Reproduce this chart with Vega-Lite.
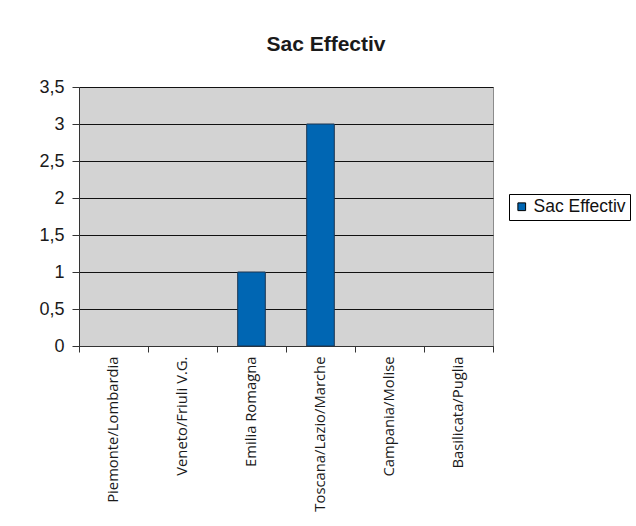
{
  "$schema": "https://vega.github.io/schema/vega-lite/v6.json",
  "autosize": {"type": "none"},
  "padding": {"left": 79, "top": 87, "right": 143, "bottom": 180},
  "width": 414,
  "height": 259,
  "background": "white",
  "title": {
    "text": "Sac Effectiv",
    "font": "Liberation Sans",
    "fontSize": 21,
    "fontWeight": "bold",
    "color": "#1a1a1a",
    "anchor": "middle",
    "dx": 40,
    "offset": 6,
    "baseline": "alphabetic"
  },
  "data": {
    "values": [
      {"regione": "Piemonte/Lombardia", "valore": 0, "serie": "Sac Effectiv"},
      {"regione": "Veneto/Friuli V.G.", "valore": 0, "serie": "Sac Effectiv"},
      {"regione": "Emilia Romagna", "valore": 1, "serie": "Sac Effectiv"},
      {"regione": "Toscana/Lazio/Marche", "valore": 3, "serie": "Sac Effectiv"},
      {"regione": "Campania/Molise", "valore": 0, "serie": "Sac Effectiv"},
      {"regione": "Basilicata/Puglia", "valore": 0, "serie": "Sac Effectiv"}
    ]
  },
  "mark": {
    "type": "bar",
    "width": {"band": 0.4},
    "stroke": "#1c3550",
    "strokeWidth": 1
  },
  "encoding": {
    "x": {
      "field": "regione",
      "type": "nominal",
      "sort": null,
      "title": null,
      "scale": {"paddingInner": 0, "paddingOuter": 0},
      "axis": {
        "tickBand": "extent",
        "labelAngle": -90,
        "labelFont": "Open Sans",
        "labelFontSize": 14.8,
        "labelColor": "#1a1a1a",
        "labelPadding": 4,
        "tickSize": 6,
        "tickColor": "#333333",
        "domainColor": "#333333",
        "grid": false
      }
    },
    "y": {
      "field": "valore",
      "type": "quantitative",
      "title": null,
      "scale": {"domain": [0, 3.5], "nice": false},
      "axis": {
        "values": [0, 0.5, 1, 1.5, 2, 2.5, 3, 3.5],
        "labelExpr": "replace(format(datum.value, '~g'), '.', ',')",
        "labelFont": "Liberation Sans",
        "labelFontSize": 18,
        "labelColor": "#1a1a1a",
        "labelPadding": 8,
        "tickSize": 7,
        "tickColor": "#333333",
        "domainColor": "#333333",
        "grid": true,
        "gridColor": "#111111",
        "gridWidth": 1
      }
    },
    "strokeOpacity": {
      "condition": {"test": "datum.valore > 0", "value": 1},
      "value": 0
    },
    "color": {
      "field": "serie",
      "type": "nominal",
      "scale": {"domain": ["Sac Effectiv"], "range": ["#0066b3"]},
      "legend": {
        "title": null,
        "orient": "none",
        "legendX": 430,
        "legendY": 107,
        "strokeColor": "#000000",
        "fillColor": "white",
        "padding": 4,
        "symbolType": "square",
        "symbolSize": 60,
        "symbolStrokeColor": "#000000",
        "symbolStrokeWidth": 1,
        "symbolOpacity": 1,
        "labelFont": "Liberation Sans",
        "labelFontSize": 17.5,
        "labelColor": "#111111",
        "labelOffset": 3
      }
    }
  },
  "config": {
    "view": {"fill": "#d3d3d3", "stroke": "#8c8c8c", "strokeWidth": 1}
  }
}
